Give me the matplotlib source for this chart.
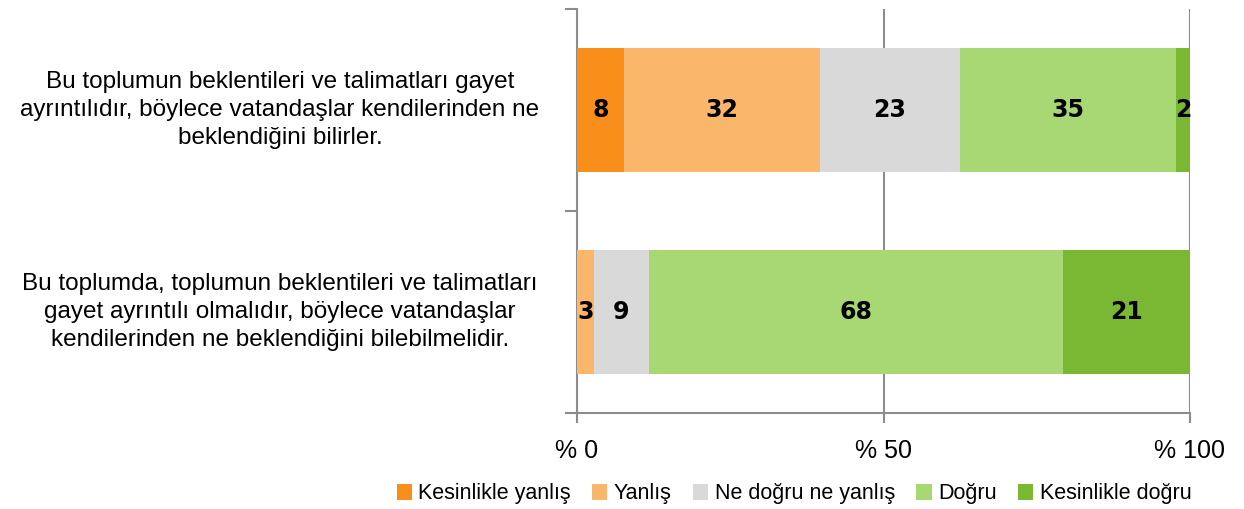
import matplotlib
matplotlib.use("Agg")
import matplotlib.pyplot as plt
import numpy as np

# --- Data ---
categories = [
    "Bu toplumun beklentileri ve talimatları gayet\nayrıntılıdır, böylece vatandaşlar kendilerinden ne\nbeklendiğini bilirler.",
    "Bu toplumda, toplumun beklentileri ve talimatları\ngayet ayrıntılı olmalıdır, böylece vatandaşlar\nkendilerinden ne beklendiğini bilebilmelidir.",
]
series_names = ["Kesinlikle yanlış", "Yanlış", "Ne doğru ne yanlış", "Doğru", "Kesinlikle doğru"]
kesinlikle_yanlis = [7.7, 0.0]
yanlis = [31.9, 2.8]
ne_dogru_ne_yanlis = [22.9, 8.9]
dogru = [35.2, 67.6]
kesinlikle_dogru = [2.3, 20.7]
x_ticks = [0, 50, 100]
x_tick_labels = ["% 0", "% 50", "% 100"]

colors = ["#F98E1A", "#FAB66A", "#D9D9D9", "#A8D873", "#7AB833"]
plt.rcParams['font.family'] = ["Liberation Sans", "DejaVu Sans"]

fig = plt.figure(figsize=(12.44, 5.09), dpi=100)
ax = fig.add_axes([577 / 1244, 96 / 509, 613 / 1244, 404 / 509])

series = [kesinlikle_yanlis, yanlis, ne_dogru_ne_yanlis, dogru, kesinlikle_dogru]
y = np.arange(len(categories))
left = np.zeros(len(categories))
for name, vals, col in zip(series_names, series, colors):
    vals = np.array(vals)
    ax.barh(y, vals, left=left, height=0.61, color=col, label=name, zorder=3)
    for yi, (l, v) in enumerate(zip(left, vals)):
        if v > 0.5:
            ax.text(l + v / 2, yi, f"{round(v):d}", ha='center', va='center',
                    fontsize=17, fontweight='bold', color='black', zorder=4,
                    family="DejaVu Sans")
    left = left + vals

ax.set_xlim(0, 100)
ax.set_ylim(1.5, -0.5)

grey = "#8C8C8C"
ax.set_xticks(x_ticks)
ax.set_xticklabels(x_tick_labels, fontsize=18)
ax.tick_params(axis='x', length=7, width=1.5, color=grey, pad=12)
ax.set_yticks([-0.5, 0.5, 1.5])
ax.set_yticklabels([])
ax.tick_params(axis='y', length=9, width=1.5, color=grey)
ax.grid(axis='x', color=grey, linewidth=1.5, zorder=0)

for s in ['top', 'right']:
    ax.spines[s].set_visible(False)
for s in ['left', 'bottom']:
    ax.spines[s].set_color(grey)
    ax.spines[s].set_linewidth(1.5)

# category labels, centered multiline
trans = matplotlib.transforms.blended_transform_factory(fig.transFigure, ax.transData)
for yi, cat in enumerate(categories):
    ax.text(280 / 1244, yi, cat, transform=trans,
            ha='center', va='center', multialignment='center', fontsize=17.5, linespacing=1.38)

leg = fig.legend(loc='center', bbox_to_anchor=(794 / 1244, 15 / 509), ncol=5, frameon=False,
                 handlelength=0.7, handleheight=0.7, handletextpad=0.3, columnspacing=1.0,
                 prop={'size': 15.5})

fig.savefig("out.png", dpi=100)
